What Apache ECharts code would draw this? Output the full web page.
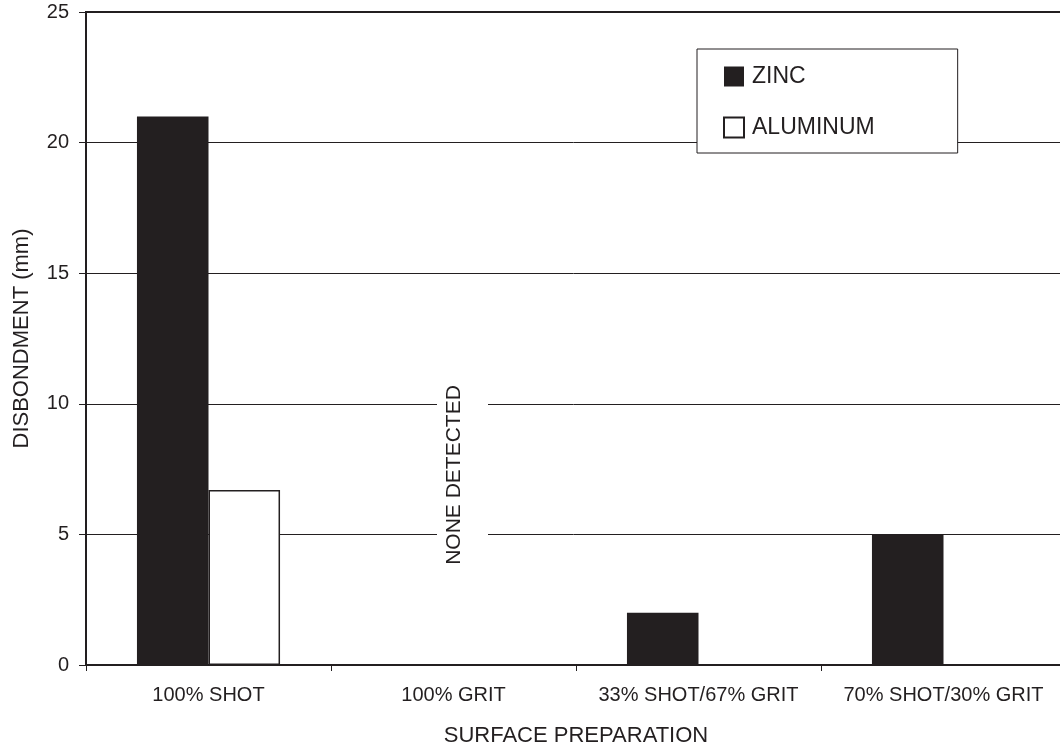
<!DOCTYPE html>
<html>
<head>
<meta charset="utf-8">
<script src="https://cdn.jsdelivr.net/npm/echarts@6/dist/echarts.min.js"></script>
<style>
html,body{margin:0;padding:0;background:#fff;}
#chart{width:1060px;height:747px;}
</style>
</head>
<body>
<div id="chart"></div>
<script>
const categories = ['100% SHOT', '100% GRIT', '33% SHOT/67% GRIT', '70% SHOT/30% GRIT'];
const zincValues = [21, null, 2, 5];
const aluminumValues = [6.7, null, null, null];
const yTicks = [0, 5, 10, 15, 20, 25];

const INK = '#231f20';
const FONT = '"Liberation Sans", Arial, Helvetica, sans-serif';

const chart = echarts.init(document.getElementById('chart'), null, {renderer: 'canvas'});

const option = {
  backgroundColor: '#ffffff',
  animation: false,
  textStyle: {fontFamily: FONT, color: INK},
  grid: {
    left: 86, top: 12, bottom: 82, right: -6,
    containLabel: false,
    outerBoundsMode: 'none',
    show: true, borderColor: INK, borderWidth: 2, backgroundColor: 'transparent'
  },
  legend: {
    left: 697, top: 49,
    orient: 'vertical',
    icon: 'rect',
    itemWidth: 20, itemHeight: 20,
    itemGap: 28,
    padding: [16, 83, 14, 26],
    backgroundColor: '#ffffff',
    borderColor: INK, borderWidth: 1,
    textStyle: {fontSize: 23, color: INK, fontFamily: FONT, padding: [0, 0, 0, 3]},
    z: 10
  },
  xAxis: {
    type: 'category',
    data: categories,
    boundaryGap: true,
    name: 'SURFACE PREPARATION',
    nameLocation: 'middle',
    nameGap: 60,
    nameTextStyle: {fontSize: 22, color: INK, fontFamily: FONT},
    axisLine: {show: true, lineStyle: {color: INK, width: 2}},
    axisTick: {show: true, inside: false, length: 6, interval: 0, alignWithLabel: false, lineStyle: {color: INK, width: 1}},
    axisLabel: {fontSize: 20, color: INK, margin: 20, interval: 0, fontFamily: FONT},
    splitLine: {show: false}
  },
  yAxis: {
    type: 'value',
    min: yTicks[0], max: yTicks[yTicks.length - 1], interval: 5,
    name: 'DISBONDMENT (mm)',
    nameLocation: 'middle',
    nameGap: 53,
    nameRotate: 90,
    nameTextStyle: {fontSize: 22, color: INK, fontFamily: FONT},
    axisLine: {show: true, lineStyle: {color: INK, width: 1.5}},
    axisTick: {show: true, inside: false, length: 7, lineStyle: {color: INK, width: 1}},
    axisLabel: {fontSize: 20, color: INK, margin: 17, fontFamily: FONT},
    splitLine: {show: true, lineStyle: {color: INK, width: 1}}
  },
  series: [
    {
      name: 'ZINC',
      type: 'bar',
      data: zincValues,
      barGap: '0%',
      barCategoryGap: '41.6%',
      itemStyle: {color: INK},
      z: 3
    },
    {
      name: 'ALUMINUM',
      type: 'bar',
      data: aluminumValues,
      barGap: '0%',
      barCategoryGap: '41.6%',
      itemStyle: {color: '#ffffff', borderColor: INK, borderWidth: 1.5},
      z: 3
    }
  ],
  graphic: [
    {
      type: 'rect', z: 100,
      shape: {x: 437, y: 378, width: 51, height: 194},
      style: {fill: '#ffffff'}
    },
    {
      type: 'text', z: 101,
      x: 454, y: 475,
      rotation: Math.PI / 2,
      style: {
        text: 'NONE DETECTED',
        fontSize: 21, fontFamily: FONT, fill: INK,
        align: 'center', verticalAlign: 'middle'
      }
    }
  ]
};
chart.setOption(option);
</script>
</body>
</html>
